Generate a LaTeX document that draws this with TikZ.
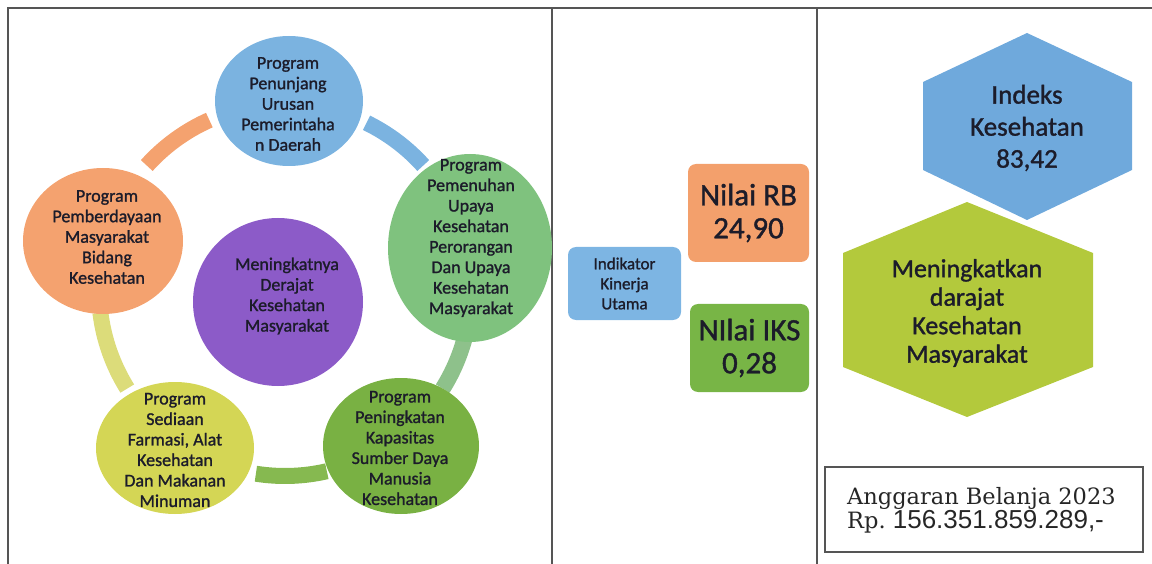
\documentclass[tikz,border=0pt]{standalone}
\usepackage{fontspec}
\setmainfont[FakeBold=1.2]{Carlito}
\newfontfamily\bookfont{DejaVu Serif}
\newfontfamily\arialfont{Liberation Sans}
\usetikzlibrary{shapes.geometric}
\definecolor{cblue}{HTML}{7BB3E0}
\definecolor{corange}{HTML}{F4A26F}
\definecolor{cgreen}{HTML}{7FC27E}
\definecolor{cgreenarc}{HTML}{8EC18B}
\definecolor{cdgreen}{HTML}{79B143}
\definecolor{cdgreenarc}{HTML}{86B950}
\definecolor{cyellow}{HTML}{D4D655}
\definecolor{cyellowarc}{HTML}{DCDC7A}
\definecolor{cpurple}{HTML}{8C5BC8}
\definecolor{boxblue}{HTML}{7DB5E3}
\definecolor{boxorange}{HTML}{F3A06C}
\definecolor{boxgreen}{HTML}{78B546}
\definecolor{hexblue}{HTML}{6FA9DC}
\definecolor{hexgreen}{HTML}{B3C93C}
\definecolor{txt}{HTML}{1C1C2A}
\definecolor{frame}{HTML}{555555}
\tikzset{
  blob/.style={ellipse, inner sep=0, draw=none, fill=#1},
  ctext/.style={align=center, inner sep=0, text=txt, font=\fontsize{18}{20.5}\selectfont},
  ringarc/.style={line width=16, draw=#1},
  rbox/.style={rounded corners=8, fill=#1, draw=none, inner sep=0},
  frameline/.style={draw=frame, line width=1.8},
}
\begin{document}
\begin{tikzpicture}[x=1pt,y=-1pt]
\useasboundingbox (0,0) rectangle (1152,564);
% frame
\coordinate (tl) at (8,8);
\coordinate (tr) at (1152,8);
\coordinate (bl) at (8,564);
\coordinate (d1t) at (552,8);
\coordinate (d1b) at (552,564);
\coordinate (d2t) at (817,8);
\coordinate (d2b) at (817,564);
\draw[frameline] (bl) -- (tl) -- (tr);
\draw[frameline] (d1t) -- (d1b);
\draw[frameline] (d2t) -- (d2b);
% ring arcs
\coordinate (ring) at (285,290);
\draw[ringarc=corange] ([shift={(-114:186)}]ring) arc[start angle=-114, end angle=-138, radius=186];
\draw[ringarc=cblue] ([shift={(-42:186)}]ring) arc[start angle=-42, end angle=-64, radius=186];
\draw[ringarc=cgreenarc] ([shift={(11:186)}]ring) arc[start angle=11, end angle=32, radius=186];
\draw[ringarc=cdgreenarc] ([shift={(77:186)}]ring) arc[start angle=77, end angle=99, radius=186];
\draw[ringarc=cyellowarc] ([shift={(148:186)}]ring) arc[start angle=148, end angle=173, radius=186];
% circles
\node[blob=cblue, minimum width=148, minimum height=130] (c1) at (289,101) {};
\node[blob=cgreen, minimum width=164, minimum height=188] (c2) at (470,248) {};
\node[blob=cdgreen, minimum width=156, minimum height=136] (c3) at (401,446) {};
\node[blob=cyellow, minimum width=158, minimum height=132] (c4) at (175,448) {};
\node[blob=corange, minimum width=160, minimum height=146] (c5) at (103,241) {};
\node[blob=cpurple, minimum width=170, minimum height=168] (c0) at (278,302) {};
\node[ctext] (t1) at (288,104) {Program\\Penunjang\\Urusan\\Pemerintaha\\n Daerah};
\node[ctext] (t2) at (471,238) {Program\\Pemenuhan\\Upaya\\Kesehatan\\Perorangan\\Dan Upaya\\Kesehatan\\Masyarakat};
\node[ctext] (t3) at (400,448) {Program\\Peningkatan\\Kapasitas\\Sumber Daya\\Manusia\\Kesehatan};
\node[ctext] (t4) at (175,450) {Program\\Sediaan\\Farmasi, Alat\\Kesehatan\\Dan Makanan\\Minuman};
\node[ctext] (t5) at (107,237) {Program\\Pemberdayaan\\Masyarakat\\Bidang\\Kesehatan};
\node[ctext] (t0) at (287,296) {Meningkatnya\\Derajat\\Kesehatan\\Masyarakat};
% middle panel
\node[rbox=boxblue, minimum width=113, minimum height=73] (iku) at (624.5,283.5) {};
\node[ctext, font=\fontsize{17}{20}\selectfont] (ikut) at (iku) {Indikator\\Kinerja\\Utama};
\node[rbox=boxorange, minimum width=121, minimum height=98] (rb) at (748.5,213) {};
\node[ctext, font=\fontsize{31}{33}\selectfont] (rbt) at (rb) {Nilai RB\\24,90};
\node[rbox=boxgreen, minimum width=119, minimum height=88] (iks) at (749.5,348) {};
\node[ctext, font=\fontsize{31}{33}\selectfont] (ikst) at (iks) {NIlai IKS\\0,28};
% right panel hexagons
\fill[hexblue] (1027,33) -- (1132,82) -- (1132,170) -- (1027,220) -- (923,170) -- (923,82) -- cycle;
\node[ctext, font=\fontsize{27}{32}\selectfont] (hx1) at (1027,128) {Indeks\\Kesehatan\\83,42};
\fill[hexgreen] (967,202) -- (1093,253) -- (1093,367) -- (967,417) -- (843,367) -- (843,253) -- cycle;
\node[ctext, font=\fontsize{26}{28.5}\selectfont] (hx2) at (967,313) {Meningkatkan\\darajat\\Kesehatan\\Masyarakat};
% budget box
\node[draw=frame, line width=1.5, minimum width=318, minimum height=85, inner sep=0] (budget) at (984,509.5) {};
\node[anchor=west, align=left, inner sep=0, text=black!85] (budgett) at (847,510) {{\bookfont\fontsize{22.5}{30}\selectfont Anggaran Belanja 2023}\\{\bookfont\fontsize{22.5}{30}\selectfont Rp.\ }{\arialfont\fontsize{26}{30}\selectfont 156.351.859.289,-}};
\end{tikzpicture}
\end{document}
